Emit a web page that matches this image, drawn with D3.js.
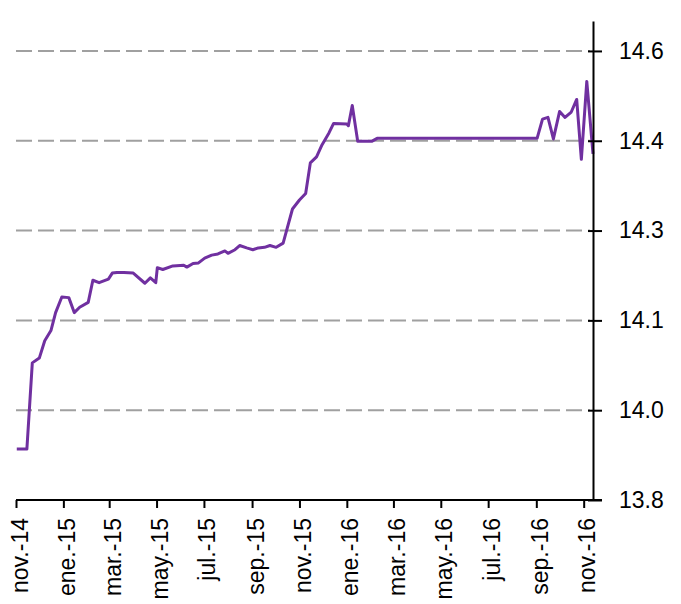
<!DOCTYPE html>
<html>
<head>
<meta charset="utf-8">
<script src="https://cdn.jsdelivr.net/npm/d3@7"></script>
<style>
  body { margin: 0; background: #fff; }
  svg text { font-family: "Liberation Sans", Arial, sans-serif; fill: #000; }
</style>
</head>
<body>
<div id="chart"></div>
<script>
// Serie (fechas y valores)
var fechas = [
  "2014-11-02","2014-11-15","2014-11-22","2014-12-01","2014-12-08","2014-12-16","2014-12-22","2014-12-30",
  "2015-01-08","2015-01-15","2015-01-22","2015-02-02","2015-02-08","2015-02-16","2015-02-28","2015-03-05",
  "2015-03-11","2015-03-20","2015-04-01","2015-04-16","2015-04-23","2015-04-30","2015-05-02","2015-05-09",
  "2015-05-22","2015-06-05","2015-06-09","2015-06-17","2015-06-24","2015-07-02","2015-07-11","2015-07-19",
  "2015-07-28","2015-08-01","2015-08-10","2015-08-16","2015-08-25","2015-09-02","2015-09-09","2015-09-17",
  "2015-09-24","2015-10-02","2015-10-11","2015-10-23","2015-11-01","2015-11-09","2015-11-15","2015-11-23",
  "2015-11-30","2015-12-09","2015-12-15","2016-01-01","2016-01-03","2016-01-08","2016-01-15","2016-02-02",
  "2016-02-09","2016-09-02","2016-09-09","2016-09-16","2016-09-23","2016-10-01","2016-10-08","2016-10-16",
  "2016-10-23","2016-10-29","2016-11-05","2016-11-13"
];
var valores = [
  13.885, 13.885, 14.029, 14.037, 14.066, 14.083, 14.113, 14.139,
  14.138, 14.113, 14.122, 14.130, 14.167, 14.163, 14.169, 14.179,
  14.180, 14.180, 14.179, 14.162, 14.171, 14.163, 14.188, 14.185,
  14.191, 14.192, 14.189, 14.195, 14.196, 14.204, 14.209, 14.211,
  14.216, 14.212, 14.218, 14.225, 14.221, 14.218, 14.221, 14.222,
  14.225, 14.222, 14.229, 14.286, 14.301, 14.312, 14.363, 14.373,
  14.393, 14.413, 14.429, 14.428, 14.425, 14.459, 14.399, 14.399,
  14.404, 14.404, 14.436, 14.439, 14.403, 14.449, 14.439, 14.448,
  14.469, 14.369, 14.499, 14.378
];

// Eje X : un tick cada dos meses
var ticksX = ["2014-11-01","2015-01-01","2015-03-01","2015-05-01","2015-07-01","2015-09-01","2015-11-01",
  "2016-01-01","2016-03-01","2016-05-01","2016-07-01","2016-09-01","2016-11-01"];
var etiquetasX = ["nov.-14","ene.-15","mar.-15","may.-15","jul.-15","sep.-15","nov.-15",
  "ene.-16","mar.-16","may.-16","jul.-16","sep.-16","nov.-16"];

// Eje Y (a la derecha)
var ticksY = [13.8, 13.95, 14.1, 14.25, 14.4, 14.55];
var etiquetasY = ["13.8","14.0","14.1","14.3","14.4","14.6"];

var parseDate = d3.timeParse("%Y-%m-%d");

var data = fechas.map(function(f, i) {
  return { fecha: parseDate(f), valor: valores[i] };
});

const width = 681, height = 604;
const margin = {left: 16, right: 593, top: 21, bottom: 500};

const svg = d3.select("#chart")
  .append("svg")
  .attr("width", width)
  .attr("height", height);

const x = d3.scaleTime()
  .domain([parseDate("2014-11-01"), parseDate("2016-11-13")])
  .range([margin.left, margin.right]);

const y = d3.scaleLinear()
  .domain([13.8, 14.6])
  .range([margin.bottom, margin.top]);

// lineas de cuadricula
svg.append("g")
  .selectAll("line")
  .data(ticksY.slice(1))
  .join("line")
  .attr("x1", margin.left)
  .attr("x2", margin.right - 3)
  .attr("y1", d => y(d))
  .attr("y2", d => y(d))
  .attr("stroke", "#a0a0a0")
  .attr("stroke-width", 2)
  .attr("stroke-dasharray", "16,6");

// serie
svg.append("path")
  .datum(data)
  .attr("fill", "none")
  .attr("stroke", "#7030a0")
  .attr("stroke-width", 3)
  .attr("stroke-linejoin", "round")
  .attr("d", d3.line()
    .x(d => x(d.fecha))
    .y(d => y(d.valor)));

// eje X
const xAxis = svg.append("g")
  .attr("transform", `translate(0, ${margin.bottom})`)
  .call(d3.axisBottom(x)
    .tickValues(ticksX.map(parseDate))
    .tickFormat((d, i) => etiquetasX[i])
    .tickSize(8)
    .tickSizeOuter(0));
xAxis.select(".domain").remove();
xAxis.selectAll(".tick line").attr("stroke", "#000").attr("stroke-width", 2);
xAxis.selectAll(".tick text")
  .attr("transform", "rotate(-90)")
  .attr("text-anchor", "end")
  .attr("x", -18)
  .attr("y", 0)
  .attr("dy", "0.48em")
  .style("font-size", "23px");

svg.append("line")
  .attr("x1", margin.left)
  .attr("x2", margin.right + 9)
  .attr("y1", margin.bottom)
  .attr("y2", margin.bottom)
  .attr("stroke", "#000")
  .attr("stroke-width", 2);

// eje Y
const yAxis = svg.append("g")
  .attr("transform", `translate(${margin.right}, 0)`)
  .call(d3.axisRight(y)
    .tickValues(ticksY)
    .tickFormat((d, i) => etiquetasY[i])
    .tickSize(9)
    .tickPadding(17)
    .tickSizeOuter(0));
yAxis.select(".domain").attr("stroke", "#000").attr("stroke-width", 2);
yAxis.selectAll(".tick line").attr("x1", -5).attr("stroke", "#000").attr("stroke-width", 2);
yAxis.selectAll(".tick text").style("font-size", "23px");
</script>
</body>
</html>
